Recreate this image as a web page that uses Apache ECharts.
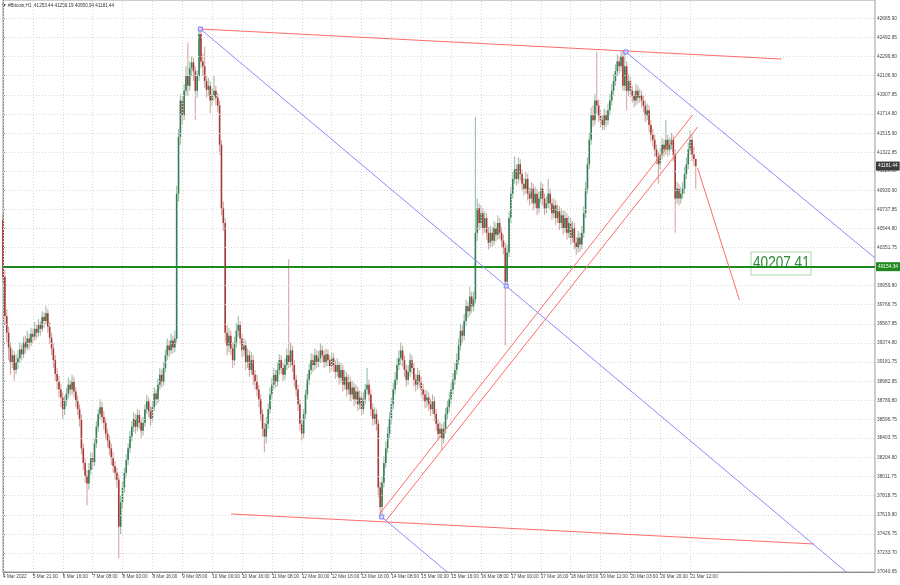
<!DOCTYPE html>
<html><head><meta charset="utf-8">
<script src="https://cdn.jsdelivr.net/npm/echarts@6/dist/echarts.min.js"></script>
<style>html,body{margin:0;padding:0;background:#fff}#c{width:900px;height:585px}</style>
</head><body><div id="c"></div>
<script>
// ---- data ----
const headerText = '#Bitcoin,H1  41253.44 41256.19 40950.94 41181.44';
const timeLabels = ['4 Mar 2022','5 Mar 21:00','6 Mar 16:00','7 Mar 08:00','8 Mar 00:00','8 Mar 16:00','9 Mar 08:00','10 Mar 00:00','10 Mar 16:00','11 Mar 08:00','12 Mar 00:00','12 Mar 16:00','13 Mar 16:00','14 Mar 08:00','15 Mar 00:00','15 Mar 16:00','16 Mar 08:00','17 Mar 00:00','17 Mar 16:00','18 Mar 08:00','19 Mar 11:00','20 Mar 03:00','20 Mar 20:00','21 Mar 12:00'];
const barsPerLabel = 16;
const priceTicks = [42685.90,42492.85,42299.80,42106.90,41907.85,41714.80,41515.90,41322.85,41129.80,40930.90,40737.85,40544.80,40351.75,39959.80,39766.75,39567.85,39374.80,39181.75,38982.85,38789.80,38596.75,38403.75,38204.80,38011.75,37818.75,37619.80,37426.75,37233.70,37040.65];
const firstOpen = 40630;
const closes = [40050,39650,39480,39330,39180,39250,39100,39180,39220,39310,
39260,39380,39330,39420,39380,39470,39440,39520,39480,39560,
39520,39640,39600,39680,39540,39430,39320,39200,39060,38980,
38900,38820,38700,38780,38860,38950,38900,38980,38880,38780,
38700,38600,38300,38150,38020,37940,38080,38200,38160,38350,
38520,38650,38720,38620,38560,38450,38380,38300,38200,38120,
38050,37980,37500,37750,37900,38050,38180,38300,38420,38520,
38600,38520,38640,38560,38480,38560,38700,38780,38680,38600,
38720,38860,38800,38950,39050,38980,39120,39250,39350,39300,
39400,39330,39420,40900,41480,41850,41700,41950,42100,42000,
42180,42240,42150,41950,42100,42530,42250,42200,42050,41960,
42000,41850,41900,41950,41880,41800,41400,40750,40600,39480,
39350,39450,39320,39200,39380,39500,39560,39420,39300,39350,
39180,39250,39100,39200,39050,38980,38900,38800,38650,38500,
38420,38550,38700,38850,38950,39050,38980,39100,39200,39120,
39050,39150,39250,39180,39300,39150,39000,38900,38750,38550,
38450,38650,38850,39000,39100,39200,39150,39250,39180,39220,
39300,39250,39180,39260,39200,39140,39220,39150,39080,39150,
39020,39100,38950,39030,38900,38980,38850,38920,38800,38880,
38750,38820,38700,38800,38900,38950,38850,38700,38600,38650,
38550,37900,37700,37950,38150,38300,38450,38600,38750,38900,
39000,39150,39220,39300,39200,39100,39000,39080,39200,39120,
39000,38950,39050,38980,38900,38850,38780,38820,38750,38700,
38780,38650,38550,38450,38500,38400,38500,38650,38720,38800,
38900,39000,39100,39200,39350,39500,39450,39600,39750,39700,
39850,39750,39820,40500,40750,40600,40700,40550,40650,40500,
40400,40500,40420,40550,40480,40600,40500,40420,40350,40000,
40300,40650,40900,41050,41150,41050,41200,41100,41000,40950,
41050,40900,40850,40950,40800,40900,40750,40850,40950,40850,
40750,40800,40900,40800,40700,40780,40650,40720,40600,40680,
40550,40650,40500,40600,40450,40550,40400,40350,40450,40380,
40500,40700,40950,41200,41450,41700,41650,41850,41800,41700,
41650,41600,41700,41650,41750,41850,41950,42050,42150,42250,
42200,42300,42000,42200,41950,42050,41950,41900,41850,41950,
41880,41900,41850,41800,41700,41750,41600,41500,41450,41350,
41280,41200,41300,41400,41350,41450,41350,41400,41450,41300,
40850,40950,40850,40900,40950,41100,41200,41350,41450,41300,
41253.44,41181.44];
const highs = [40690,40120,39720,39540,39380,39310,39290,39260,39300,39380,
39360,39440,39450,39500,39470,39530,39520,39590,39570,39620,
39600,39700,39690,39750,39720,39590,39480,39370,39250,39120,
39040,38960,38870,38840,38920,39020,39000,39050,39030,38920,
38840,38750,38650,38350,38200,38080,38150,38260,38250,38400,
38580,38700,38800,38770,38680,38610,38500,38430,38350,38260,
38170,38100,38030,37820,37960,38100,38240,38350,38480,38580,
38670,38650,38700,38690,38610,38620,38750,38850,38820,38730,
38780,38920,38900,39010,39120,39100,39180,39310,39420,39400,
39470,39450,39500,40980,41560,41920,41900,42020,42200,42440,
42250,42300,42290,42200,42160,42580,42560,42330,42400,42100,
42080,42050,41980,42100,42000,41930,41850,41450,40820,40650,
39560,39530,39500,39380,39440,39580,39650,39600,39470,39420,
39400,39320,39300,39280,39250,39100,39050,38950,38850,38700,
38560,38620,38760,38920,39020,39120,39100,39170,39260,39250,
39170,39220,39320,40230,39380,39350,39200,39050,38950,38800,
38600,38700,38900,39060,39160,39270,39260,39320,39300,39290,
39370,39350,39300,39320,39310,39250,39280,39270,39200,39220,
39190,39170,39150,39100,39080,39050,39030,38990,38970,38950,
38930,38890,38870,38870,38960,39120,39000,38900,38760,38720,
38700,38600,37960,38010,38220,38370,38520,38670,38820,38970,
39080,39220,39300,39380,39350,39250,39150,39150,39270,39250,
39170,39060,39120,39100,39030,38960,38900,38890,38870,38800,
38850,38830,38700,38600,38570,38550,38570,38710,38790,38870,
38970,39070,39170,39270,39420,39570,39560,39670,39820,39800,
39950,39900,39900,41680,40850,40800,40780,40750,40720,40700,
40560,40570,40560,40620,40600,40680,40650,40560,40480,40400,
40380,40720,40970,41120,41280,41200,41270,41250,41150,41060,
41120,41100,40960,41020,41000,40970,40950,40920,41020,41000,
40900,40870,41050,40950,40850,40850,40830,40790,40770,40750,
40730,40720,40700,40670,40650,40620,40600,40460,40520,40500,
40570,40770,41020,41270,41520,41780,41800,41920,42350,41860,
41760,41700,41770,41750,41820,41920,42020,42120,42220,42320,
42300,42350,42360,42370,42250,42120,42100,42000,41950,42020,
42000,41970,41950,41900,41850,41820,41800,41650,41560,41500,
41400,41330,41370,41470,41450,41650,41500,41470,41520,41500,
41350,41020,41000,40970,41020,41170,41270,41420,41550,41500,
41380,41256.19];
const lows = [39990,39560,39380,39200,39050,39120,38990,39060,39110,39170,
39200,39220,39270,39300,39310,39340,39370,39400,39420,39440,
39450,39490,39530,39560,39480,39370,39250,39120,38990,38900,
38820,38720,38600,38640,38730,38810,38840,38850,38820,38720,
38640,38520,38240,38080,37950,37720,37880,38030,38090,38120,
38300,38470,38600,38560,38490,38390,38310,38230,38130,38050,
37980,37900,37180,37420,37690,37850,38000,38130,38250,38370,
38470,38450,38480,38500,38400,38430,38520,38650,38620,38530,
38560,38680,38740,38760,38900,38920,38940,39080,39200,39230,
39260,39270,39280,39380,40820,41400,41600,41650,41900,41900,
41950,42100,42050,41650,41880,42050,42180,42100,41980,41880,
41900,41720,41800,41850,41800,41730,41300,40680,40520,39380,
39250,39280,39250,39120,39150,39330,39440,39360,39230,39240,
39100,39120,39030,39050,38950,38900,38830,38720,38580,38420,
38260,38350,38500,38650,38800,38900,38920,38930,39050,39060,
38980,39000,39100,39120,39130,39080,38930,38830,38680,38480,
38380,38400,38600,38800,38950,39050,39080,39100,39120,39130,
39170,39180,39120,39130,39140,39070,39090,39080,39010,39030,
38950,38970,38880,38900,38830,38850,38780,38800,38730,38750,
38680,38700,38630,38650,38750,38850,38780,38630,38530,38540,
38480,37800,37600,37620,37900,38100,38250,38400,38550,38700,
38850,38950,39100,39150,39130,39030,38930,38950,39030,39060,
38930,38880,38900,38920,38830,38780,38710,38720,38680,38630,
38650,38580,38480,38380,38400,38280,38350,38450,38600,38670,
38750,38850,38950,39050,39150,39300,39380,39400,39550,39630,
39650,39680,39700,39780,40420,40530,40550,40480,40500,40430,
40330,40350,40360,40370,40410,40430,40440,40350,40280,39350,
39950,40250,40600,40850,41000,40980,41000,41030,40930,40880,
40900,40830,40780,40800,40730,40750,40680,40700,40800,40780,
40680,40700,40750,40730,40630,40650,40580,40600,40530,40550,
40480,40500,40430,40450,40380,40400,40330,40270,40300,40310,
40330,40450,40650,40900,41150,41400,41580,41600,41720,41630,
41580,41550,41550,41580,41600,41700,41800,41900,42000,42100,
42120,42150,41950,41950,41750,41900,41880,41830,41780,41800,
41820,41830,41780,41730,41630,41650,41530,41430,41380,41280,
41200,41000,41150,41250,41280,41300,41280,41300,41350,41230,
40500,40800,40780,40800,40850,40900,41050,41150,41300,41230,
41180,40950.94];
const lastBarSlot = 467;
const hLinePrice = 40154.34;
const bidPrice = 41181.44;
const noteText = '40207.41';
// drawn objects: [[bar, price],[bar, price]]
const redLines = [
  [[105.7,42580.6],[416.8,42274.3]],
  [[122.2,37629.7],[434.4,37323.4]],
  [[201.7,37630.0],[369.3,41702.7]],
  [[204.9,37558.0],[372.0,41580.0]],
  [[372.0,41161.7],[394.4,39814.2]]
];
const blueLines = [
  [[105.7,42580.6],[467,36792]],
  [[333.6,42345.8],[467,40243]],
  [[202.8,37599.0],[260,36684]]
];
const anchorPoints = [[105.7,42580.6],[269.5,39957.1],[333.6,42345.8],[202.8,37599.0]];

// ---- chart ----
const labelBars = timeLabels.map((_, k) => k * barsPerLabel);
const ohlc = closes.map((c, i) => [i, i === 0 ? firstOpen : closes[i - 1], c, lows[i], highs[i]]);
const UP = '#347f55', DN = '#a53a34';
const UPW = 'rgba(52,127,85,0.5)', DNW = 'rgba(165,58,52,0.45)';

function renderCandle(params, api) {
  const i = api.value(0), o = api.value(1), c = api.value(2), l = api.value(3), h = api.value(4);
  const pO = api.coord([i, o]), pC = api.coord([i, c]);
  const pL = api.coord([i, l]), pH = api.coord([i, h]);
  const x = pO[0];
  const up = c >= o;
  const top = Math.min(pO[1], pC[1]);
  let hh = Math.abs(pO[1] - pC[1]); if (hh < 1) hh = 1;
  return { type: 'group', children: [
    { type: 'line', shape: { x1: x, y1: pH[1], x2: x, y2: pL[1] }, style: { stroke: up ? UPW : DNW, lineWidth: 1.1 } },
    { type: 'rect', shape: { x: x - 0.8, y: top, width: 1.6, height: hh }, style: { fill: up ? UP : DN } }
  ]};
}

const lineSeries = (segs, color, z) => segs.map(s => ({
  type: 'line', data: s, symbol: 'none', silent: true, z: z, clip: true,
  lineStyle: { color: color, width: 1 }, animation: false
}));

const chart = echarts.init(document.getElementById('c'));
chart.setOption({
  animation: false,
  backgroundColor: '#ffffff',
  grid: { left: 1, right: 24, top: 0, bottom: 13, show: true, borderColor: '#9a9a9a', borderWidth: 1 },
  xAxis: {
    type: 'value', min: 0, max: lastBarSlot,
    axisLine: { show: true, onZero: false, lineStyle: { color: '#8c8c8c' } },
    axisTick: { show: true, customValues: labelBars, length: 3, lineStyle: { color: '#8c8c8c' } },
    axisLabel: { customValues: labelBars, formatter: v => timeLabels[Math.round(v / barsPerLabel)] || '',
      align: 'left', fontSize: 4.7, color: '#444', margin: 2, fontFamily: 'Liberation Sans' },
    splitLine: { show: false }
  },
  yAxis: {
    type: 'value', position: 'right', min: 37037.6, max: 42876.6, scale: true,
    axisLine: { show: true, lineStyle: { color: '#8c8c8c' } },
    axisTick: { show: true, customValues: priceTicks, length: 2, lineStyle: { color: '#8c8c8c' } },
    axisLabel: { customValues: priceTicks, formatter: v => v.toFixed(2), fontSize: 4.8, color: '#444', margin: 2, fontFamily: 'Liberation Sans' },
    splitLine: { show: false }
  },
  series: [
    { type: 'line', data: [], z: 1, silent: true,
      markLine: { silent: true, symbol: 'none', animation: false, label: { show: false },
        lineStyle: { color: '#d8d8d8', type: [1, 2], width: 1 },
        data: priceTicks.map(v => ({ yAxis: v })).concat(labelBars.map(b => ({ xAxis: b }))) } },
    { type: 'custom', renderItem: renderCandle, data: ohlc, z: 2, silent: true,
      encode: { x: 0, y: [1, 2, 3, 4] } },
    ...lineSeries(redLines, '#ff6b6b', 5),
    ...lineSeries(blueLines, '#8a8aff', 5),
    { type: 'scatter', data: anchorPoints, symbol: 'rect', symbolSize: 4, z: 6, silent: true,
      itemStyle: { color: '#d8d8ff', borderColor: '#6a6aff', borderWidth: 1 } },
    { type: 'line', data: [], z: 7, silent: true,
      markLine: { silent: true, symbol: 'none', animation: false,
        data: [
          { yAxis: bidPrice, lineStyle: { color: 'rgba(0,0,0,0)', width: 0 },
            label: { show: true, position: 'end', distance: 1, formatter: bidPrice.toFixed(2), backgroundColor: '#3c3c3c', color: '#fff', fontSize: 4.8, padding: [2, 2], fontFamily: 'Liberation Sans' } },
          { yAxis: hLinePrice, lineStyle: { color: '#1f8a1f', width: 2, type: 'solid' },
            label: { show: true, position: 'end', distance: 1, formatter: hLinePrice.toFixed(2), backgroundColor: '#1f8a1f', color: '#fff', fontSize: 4.8, padding: [2, 2], fontFamily: 'Liberation Sans' } }
        ] } }
  ],
  graphic: [
    { type: 'polygon', shape: { points: [[2, 4], [6, 4], [4, 7]] }, style: { fill: '#555' }, silent: true },
    { type: 'text', x: 8, y: 3, style: { text: headerText, font: '4.6px "Liberation Sans"', fill: '#333' }, silent: true },
    { type: 'group', x: 751, y: 252, silent: true, children: [
      { type: 'rect', shape: { x: 0, y: 0, width: 60, height: 23 }, style: { fill: 'rgba(0,0,0,0)', stroke: '#a6d8a6', lineWidth: 1 } },
      { type: 'text', x: 2, y: 3, scaleX: 0.8, style: { text: noteText, font: '17px "Liberation Sans"', fill: '#2a8a3a' } }
    ] }
  ]
});
</script></body></html>
